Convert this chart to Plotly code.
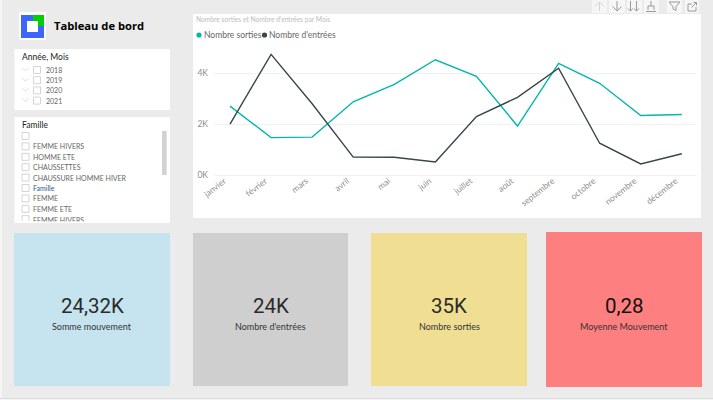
import plotly.graph_objects as go

W = 713
H = 400

mois = ['janvier', 'février', 'mars', 'avril', 'mai', 'juin', 'juillet', 'août',
        'septembre', 'octobre', 'novembre', 'décembre']
sorties = [2710, 1480, 1500, 2880, 3560, 4520, 3870, 1930, 4380, 3600, 2340, 2380]
entrees = [2010, 4730, 2800, 720, 710, 530, 2300, 3050, 4190, 1260, 450, 850]

annees = ['2018', '2019', '2020', '2021']
familles = ['', 'FEMME HIVERS', 'HOMME ETE', 'CHAUSSETTES', 'CHAUSSURE HOMME HIVER',
            'Famille', 'FEMME', 'FEMME ETE', 'FEMME HIVERS']

kpi_valeurs = ['24,32K', '24K', '35K', '0,28']
kpi_labels = ['Somme mouvement', "Nombre d'entrées", 'Nombre sorties', 'Moyenne Mouvement']
kpi_couleurs = ['#c6e4ef', '#cfcfcf', '#f0df92', '#fe7f7f']
kpi_texte = ['#2b2b2b', '#2b2b2b', '#2b2b2b', '#111111']
kpi_boites = [(14, 233, 170, 386), (193, 233, 348, 386), (371, 233, 527, 386), (546, 232, 702, 387)]

FONT = 'Lato'
TEAL = '#01b8aa'
DARK = '#374649'


def px(x):
    return x / W


def py(y):
    return 1 - y / H


shapes = []
annotations = []


def rect(x0, y0, x1, y1, fill, line=None):
    shapes.append(dict(type='rect', xref='paper', yref='paper', layer='below',
                       x0=px(x0), x1=px(x1), y0=py(y0), y1=py(y1), fillcolor=fill,
                       line=dict(color=line or fill, width=1 if line else 0)))


def path(points, color, width=1, close=False):
    d = 'M' + ' L'.join('%.5f,%.5f' % (px(a), py(b)) for a, b in points)
    if close:
        d += ' Z'
    shapes.append(dict(type='path', xref='paper', yref='paper', layer='below', path=d,
                       line=dict(color=color, width=width)))


def text(x, y, s, size, color, anchor='left', family=FONT, **kw):
    annotations.append(dict(xref='paper', yref='paper', x=px(x), y=py(y), text=s, showarrow=False,
                            xanchor=anchor, yanchor='middle', borderpad=0,
                            font=dict(family=family, size=size, color=color), **kw))


# bords de la page
rect(0, 0, 2, 400, '#f4f4f4')
rect(0, 398, 713, 399, '#dcdcdc')
rect(0, 399, 713, 400, '#f4f4f4')

# logo et titre
rect(19, 12, 46, 40, '#ffffff')
rect(21, 15, 44, 38, '#3d66ff')
rect(33, 15, 44, 26, '#00d000')
rect(27, 21, 38, 32, '#ffffff')
text(53, 26, '<b>Tableau de bord</b>', 11.2, '#000000', family='Open Sans')

# slicer années
rect(14.5, 49, 170, 110, '#ffffff')
text(20.5, 57, 'Année, Mois', 8.5, '#222222')
for i, a in enumerate(annees):
    yy = 70 + i * 10.2
    path([(22.5, yy - 2), (25.5, yy + 1), (28.5, yy - 2)], '#dddddd')
    rect(33.5, yy - 3.5, 40.5, yy + 3.5, '#ffffff', '#d4d4d4')
    text(44.5, yy, a, 7, '#666666')

# slicer familles
rect(14.5, 117, 170, 223, '#ffffff')
text(20.5, 125, 'Famille', 8.5, '#222222')
for i, f in enumerate(familles):
    yy = 136 + i * 10.4
    if i == len(familles) - 1:
        # derniere ligne coupee par le bas du slicer
        path([(22, 221), (22, yy - 3.5), (29, yy - 3.5), (29, 221)], '#d4d4d4')
        annotations.append(dict(xref='paper', yref='paper', x=px(32), y=py(yy - 4), text=f,
                                showarrow=False, xanchor='left', yanchor='top', height=5.5, valign='top',
                                borderpad=0, font=dict(family=FONT, size=7, color='#666666')))
    else:
        rect(22, yy - 3.5, 29, yy + 3.5, '#ffffff', '#d4d4d4')
        text(32, yy, f, 7, '#1f5a8a' if f == 'Famille' else '#666666')
rect(162, 131, 166.7, 175, '#d2d2d2')

# panneau du graphique
rect(193, 14, 701, 218, '#ffffff')
text(195, 19, "Nombre sorties et Nombre d'entrées par Mois", 6.7, '#bdbdbd')
shapes.append(dict(type='circle', xref='paper', yref='paper', layer='below',
                   x0=px(196.4), x1=px(201.6), y0=py(32.4), y1=py(37.6), fillcolor=TEAL, line_width=0))
shapes.append(dict(type='circle', xref='paper', yref='paper', layer='below',
                   x0=px(261.9), x1=px(267.1), y0=py(32.4), y1=py(37.6), fillcolor=DARK, line_width=0))
text(202.5, 35, 'Nombre sorties', 8.5, '#666666')
text(267.5, 35, "Nombre d'entrées", 8.5, '#666666')

# icônes du haut
for x0, x1 in [(592, 607), (609, 625), (627, 642), (644, 659), (667, 682), (685, 699)]:
    rect(x0, 0, x1, 13, '#f6f6f6')
ic = '#9a9a9a'
path([(599.5, 11), (599.5, 2)], '#d4d4d4')
path([(595, 6.5), (599.5, 2), (604, 6.5)], '#d4d4d4')
path([(617, 1), (617, 11)], ic)
path([(612.5, 6.5), (617, 11), (621.5, 6.5)], ic)
for xx in [630.5, 636.5]:
    path([(xx, 1), (xx, 11)], ic)
    path([(xx - 2.5, 8.5), (xx, 11), (xx + 2.5, 8.5)], ic)
path([(651, 1), (651, 6)], ic)
path([(648, 10), (648, 6), (654, 6), (654, 10)], ic)
path([(646, 11.5), (656, 11.5)], ic)
path([(669, 2), (680, 2), (676, 6.5), (676, 10.5), (673, 9), (673, 6.5)], ic, close=True)
path([(692, 4), (688, 4), (688, 11), (696, 11), (696, 7)], ic)
path([(691.5, 7.5), (696.5, 2.5)], ic)
path([(693.5, 2.5), (696.5, 2.5), (696.5, 5.5)], ic)

# cartes KPI
for (x0, y0, x1, y1), c, v, l, tc in zip(kpi_boites, kpi_couleurs, kpi_valeurs, kpi_labels, kpi_texte):
    rect(x0, y0, x1, y1, c)
    text((x0 + x1) / 2, 305.5, v, 20.5, tc, anchor='center', family='Roboto')
    text((x0 + x1) / 2, 326.7, l, 9, '#333333', anchor='center')

fig = go.Figure()
fig.add_trace(go.Scatter(x=mois, y=sorties, mode='lines', name='Nombre sorties',
                         line=dict(color=TEAL, width=1.4)))
fig.add_trace(go.Scatter(x=mois, y=entrees, mode='lines', name="Nombre d'entrées",
                         line=dict(color=DARK, width=1.4)))

fig.update_layout(
    width=W, height=H, autosize=False, showlegend=False,
    margin=dict(l=0, r=0, t=0, b=0, pad=0),
    paper_bgcolor='#ebebeb', plot_bgcolor='rgba(0,0,0,0)',
    shapes=shapes, annotations=annotations,
    font=dict(family=FONT),
    xaxis=dict(domain=[px(214), px(697)], range=[-0.39, 11.37], showgrid=False, zeroline=False,
               automargin=False, tickangle=-38, ticks='', ticklabelshift=-6, ticklabelstandoff=-2,
               tickfont=dict(size=8.5, color='#8f8f8f')),
    yaxis=dict(domain=[py(175.5), py(50)], range=[0, 4900], tickvals=[0, 2000, 4000],
               ticktext=['0K', '2K', '4K'], gridcolor='#f1f1f1', gridwidth=1, automargin=False,
               zeroline=True, zerolinecolor='#f1f1f1', zerolinewidth=1, ticks='',
               ticklabelstandoff=5, tickfont=dict(size=8.5, color='#8c8c8c')),
)

fig.write_html("out.html", config=dict(displayModeBar=False),
               post_script="document.body.style.margin='0';document.body.style.overflow='hidden';")
